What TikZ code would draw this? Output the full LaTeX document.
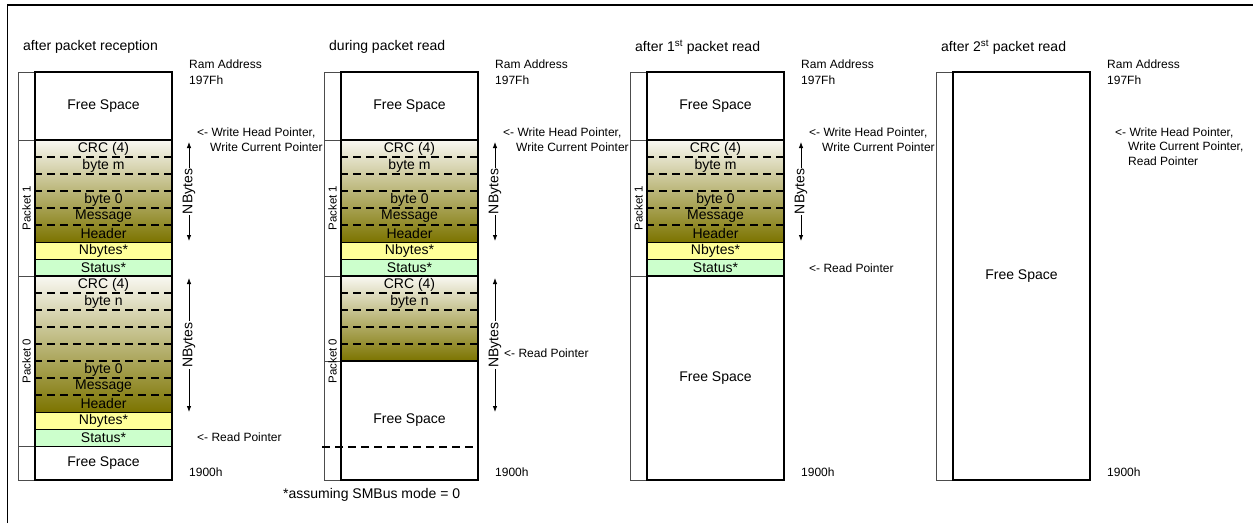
\documentclass[tikz,border=0pt]{standalone}
\usepackage{fontspec}
\setmainfont{Liberation Sans}
\usetikzlibrary{arrows.meta}
\definecolor{crctop}{RGB}{249,248,242}
\definecolor{hdrbot}{RGB}{124,116,0}
\definecolor{nbfill}{RGB}{255,255,153}
\definecolor{stfill}{RGB}{204,255,204}

\begin{document}
\begin{tikzpicture}[x=1pt,y=-1pt,
	cell/.style={draw,line width=1pt,fill=white,inner sep=0,outer sep=0,anchor=north west,minimum width=137pt,minimum height=17pt,font=\fontsize{14}{14}\selectfont},
	payload/.style={inner sep=0,outer sep=0,anchor=north west,minimum width=137pt,top color=crctop,bottom color=hdrbot},
	word/.style={inner sep=0,font=\fontsize{14}{14}\selectfont},
	dashrow/.style={line width=2pt,dash pattern=on 8pt off 5pt},
	tagcol/.style={draw=black!70,line width=0.8pt,fill=white},
	wall/.style={line width=1.4pt},
	pk/.style={rotate=90,inner sep=0,font=\fontsize{11.5}{11.5}\selectfont},
	nbarrow/.style={arrows={Latex[length=6pt,width=4.5pt]-Latex[length=6pt,width=4.5pt]},line width=0.8pt},
	addr/.style={anchor=west,inner sep=0,font=\fontsize{12}{12}\selectfont},
	heading/.style={anchor=west,inner sep=0,font=\fontsize{14}{14}\selectfont}]
	\useasboundingbox (0,0) rectangle (1253,523);
	\draw[line width=1.5pt] (7.5,523) -- (7.5,5) -- (1253,5);

	% after packet reception
	\node[heading] (t1) at (23,47) {after packet reception};
	\draw[tagcol] (18,72) rectangle (35,480);
	\draw[tagcol] (18,140) -- (35,140) (18,276) -- (35,276) (18,446) -- (35,446);
	\node[pk] (k11) at (26.5,208) {Packet 1};
	\node[pk] (k10) at (26.5,361) {Packet 0};
	\node[cell,minimum height=68pt] (f1) at (35,72) {Free Space};
	\node[payload,minimum height=102pt] (d11) at (35,140) {};
	\node[cell,fill=nbfill] (n11) at (35,242) {Nbytes*};
	\node[cell,fill=stfill] (s11) at (35,259) {Status*};
	\node[payload,minimum height=136pt] (d10) at (35,276) {};
	\node[cell,fill=nbfill] (n10) at (35,412) {Nbytes*};
	\node[cell,fill=stfill] (s10) at (35,429) {Status*};
	\node[cell,minimum height=34pt] (g1) at (35,446) {Free Space};
	\draw[dashrow] (34,157) -- (172,157) (34,174) -- (172,174) (34,191) -- (172,191) (34,208) -- (172,208) (34,225) -- (172,225);
	\draw[dashrow] (34,293) -- (172,293) (34,310) -- (172,310) (34,327) -- (172,327) (34,344) -- (172,344) (34,361) -- (172,361) (34,378) -- (172,378) (34,395) -- (172,395);
	\draw[wall] (35,140) -- (172,140) (35,276) -- (172,276);
	\draw[wall] (35,72) rectangle (172,480);
	\node[word] (c11) at (103.5,148.5) {CRC (4)};
	\node[word] (m11) at (103.5,165.5) {byte m};
	\node[word] (z11) at (103.5,199.5) {byte 0};
	\node[word] (e11) at (103.5,216.5) {Message};
	\node[word] (h11) at (103.5,233.5) {Header};
	\node[word] (c10) at (103.5,284.5) {CRC (4)};
	\node[word] (m10) at (103.5,301.5) {byte n};
	\node[word] (z10) at (103.5,369.5) {byte 0};
	\node[word] (e10) at (103.5,386.5) {Message};
	\node[word] (h10) at (103.5,403.5) {Header};
	\coordinate (u11) at (189,142);
	\coordinate (v11) at (189,241);
	\draw[nbarrow] (u11) -- node[word,fill=white,rotate=90,inner xsep=1pt] (w11) {NBytes} (v11);
	\coordinate (u10) at (189,278);
	\coordinate (v10) at (189,412);
	\draw[nbarrow] (u10) -- node[word,fill=white,rotate=90,inner xsep=1pt] (w10) {NBytes} (v10);
	\node[addr] (r1) at (189,64) {Ram Address};
	\node[addr] (a1) at (189,80) {197Fh};
	\node[addr] (hp1) at (197,133) {<- Write Head Pointer,};
	\node[addr] (cp1) at (210,147) {Write Current Pointer};
	\node[addr] (rp1) at (197,437) {<- Read Pointer};
	\node[addr] (b1) at (189,472) {1900h};
	\node[heading] (fn) at (283,495) {*assuming SMBus mode = 0};

	% during packet read
	\begin{scope}[xshift=306pt]
	\node[heading] (t2) at (23,47) {during packet read};
	\draw[tagcol] (18,72) rectangle (35,480);
	\draw[tagcol] (18,140) -- (35,140) (18,276) -- (35,276) (18,361) -- (35,361);
	\node[pk] (k21) at (26.5,208) {Packet 1};
	\node[pk] (k20) at (26.5,361) {Packet 0};
	\node[cell,minimum height=68pt] (f2) at (35,72) {Free Space};
	\node[payload,minimum height=102pt] (d21) at (35,140) {};
	\node[cell,fill=nbfill] (n21) at (35,242) {Nbytes*};
	\node[cell,fill=stfill] (s21) at (35,259) {Status*};
	\node[payload,minimum height=85pt] (d20) at (35,276) {};
	\node[cell,minimum height=119pt] (g2) at (35,361) {Free Space};
	\draw[dashrow] (34,157) -- (172,157) (34,174) -- (172,174) (34,191) -- (172,191) (34,208) -- (172,208) (34,225) -- (172,225);
	\draw[dashrow] (34,293) -- (172,293) (34,310) -- (172,310) (34,327) -- (172,327) (34,344) -- (172,344);
	\draw[dashrow] (16,447) -- (170,447);
	\draw[wall] (35,140) -- (172,140) (35,276) -- (172,276) (35,361) -- (172,361);
	\draw[wall] (35,72) rectangle (172,480);
	\node[word] (c21) at (103.5,148.5) {CRC (4)};
	\node[word] (m21) at (103.5,165.5) {byte m};
	\node[word] (z21) at (103.5,199.5) {byte 0};
	\node[word] (e21) at (103.5,216.5) {Message};
	\node[word] (h21) at (103.5,233.5) {Header};
	\node[word] (c20) at (103.5,284.5) {CRC (4)};
	\node[word] (m20) at (103.5,301.5) {byte n};
	\coordinate (u21) at (189,142);
	\coordinate (v21) at (189,241);
	\draw[nbarrow] (u21) -- node[word,fill=white,rotate=90,inner xsep=1pt] (w21) {NBytes} (v21);
	\coordinate (u20) at (189,278);
	\coordinate (v20) at (189,412);
	\draw[nbarrow] (u20) -- node[word,fill=white,rotate=90,inner xsep=1pt] (w20) {NBytes} (v20);
	\node[addr] (r2) at (189,64) {Ram Address};
	\node[addr] (a2) at (189,80) {197Fh};
	\node[addr] (hp2) at (197,133) {<- Write Head Pointer,};
	\node[addr] (cp2) at (210,147) {Write Current Pointer};
	\node[addr] (rp2) at (198,353) {<- Read Pointer};
	\node[addr] (b2) at (189,472) {1900h};
	\end{scope}

	% after 1st packet read
	\begin{scope}[xshift=612pt]
	\node[heading] (t3) at (23,47) {after 1\textsuperscript{st} packet read};
	\draw[tagcol] (18,72) rectangle (35,480);
	\draw[tagcol] (18,140) -- (35,140) (18,276) -- (35,276);
	\node[pk] (k31) at (26.5,208) {Packet 1};
	\node[cell,minimum height=68pt] (f3) at (35,72) {Free Space};
	\node[payload,minimum height=102pt] (d31) at (35,140) {};
	\node[cell,fill=nbfill] (n31) at (35,242) {Nbytes*};
	\node[cell,fill=stfill] (s31) at (35,259) {Status*};
	\node[cell,minimum height=204pt] (g3) at (35,276) {Free Space};
	\draw[dashrow] (34,157) -- (172,157) (34,174) -- (172,174) (34,191) -- (172,191) (34,208) -- (172,208) (34,225) -- (172,225);
	\draw[wall] (35,140) -- (172,140) (35,276) -- (172,276);
	\draw[wall] (35,72) rectangle (172,480);
	\node[word] (c31) at (103.5,148.5) {CRC (4)};
	\node[word] (m31) at (103.5,165.5) {byte m};
	\node[word] (z31) at (103.5,199.5) {byte 0};
	\node[word] (e31) at (103.5,216.5) {Message};
	\node[word] (h31) at (103.5,233.5) {Header};
	\coordinate (u31) at (189,142);
	\coordinate (v31) at (189,241);
	\draw[nbarrow] (u31) -- node[word,fill=white,rotate=90,inner xsep=1pt] (w31) {NBytes} (v31);
	\node[addr] (r3) at (189,64) {Ram Address};
	\node[addr] (a3) at (189,80) {197Fh};
	\node[addr] (hp3) at (197,133) {<- Write Head Pointer,};
	\node[addr] (cp3) at (210,147) {Write Current Pointer};
	\node[addr] (rp3) at (197,268) {<- Read Pointer};
	\node[addr] (b3) at (189,472) {1900h};
	\end{scope}

	% after 2nd packet read
	\begin{scope}[xshift=918pt]
	\node[heading] (t4) at (23,47) {after 2\textsuperscript{st} packet read};
	\draw[tagcol] (18,72) rectangle (35,480);
	\node[cell,minimum height=408pt] (g4) at (35,72) {Free Space};
	\draw[wall] (35,72) rectangle (172,480);
	\node[addr] (r4) at (189,64) {Ram Address};
	\node[addr] (a4) at (189,80) {197Fh};
	\node[addr] (hp4) at (197,133) {<- Write Head Pointer,};
	\node[addr] (cp4) at (210,147) {Write Current Pointer,};
	\node[addr] (rp4) at (210,161) {Read Pointer};
	\node[addr] (b4) at (189,472) {1900h};
	\end{scope}
\end{tikzpicture}
\end{document}
